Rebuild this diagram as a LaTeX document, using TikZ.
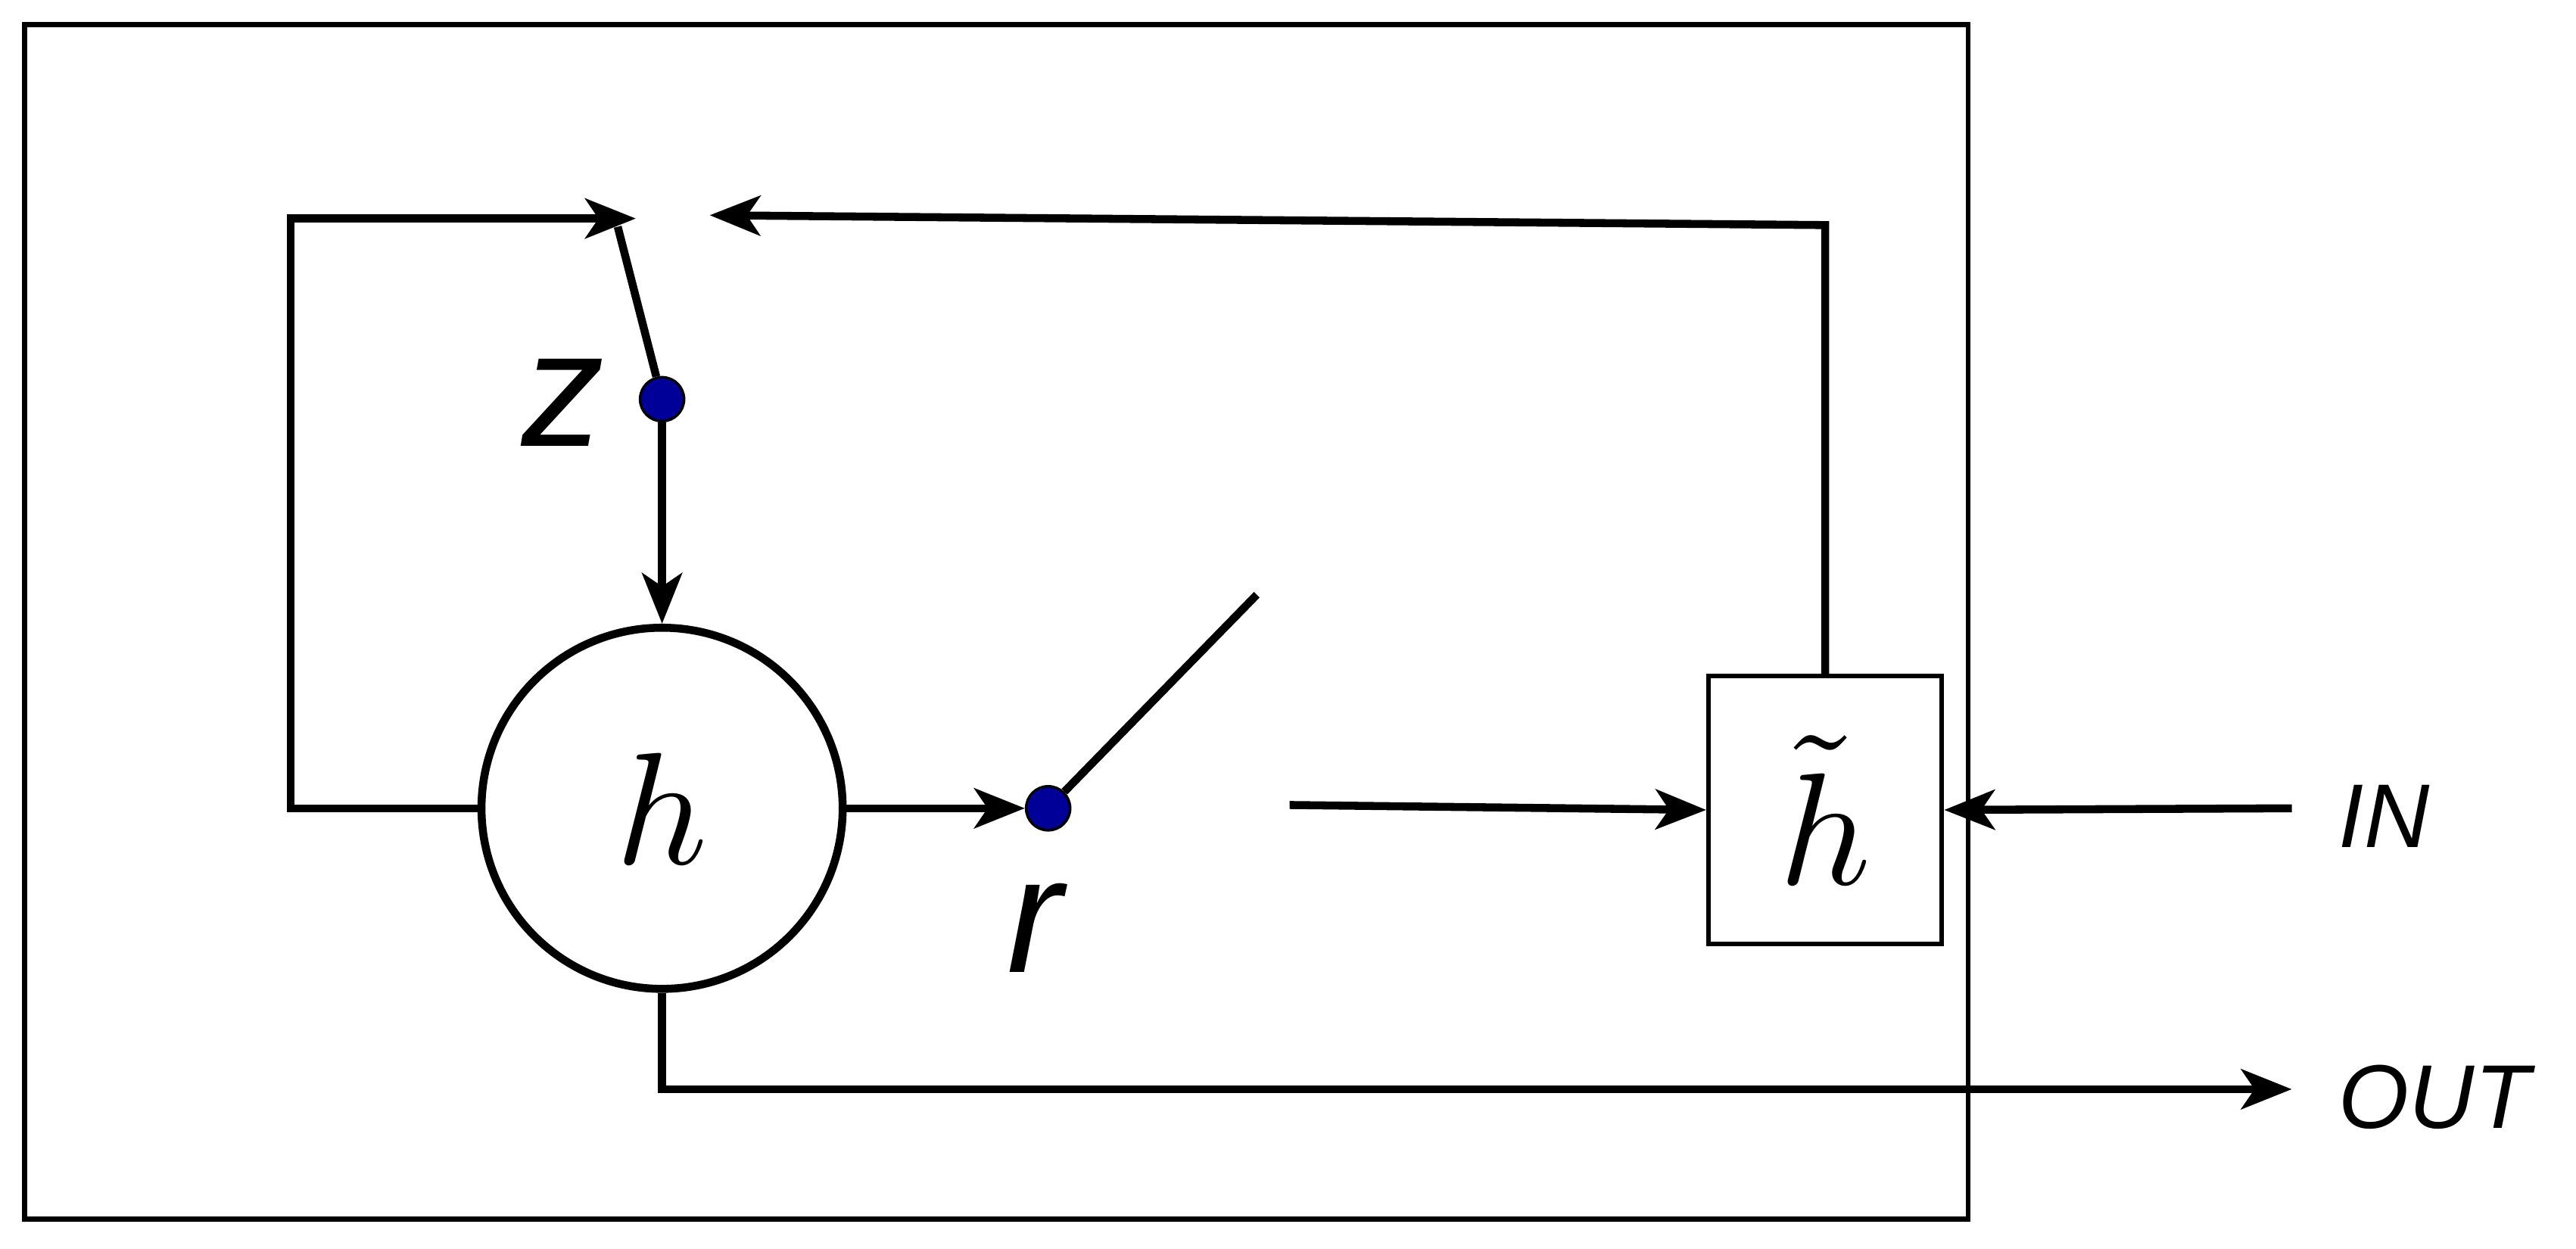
\documentclass[tikz,border=0pt]{standalone}
\usepackage{fontspec}
\setmainfont{Liberation Sans}
\usetikzlibrary{arrows.meta}
\begin{document}
\begin{tikzpicture}[x=0.0217cm,y=-0.0217cm,
  ln/.style={line width=3pt},
  arr/.style={ln,-{Stealth[length=19pt,width=15pt,inset=5pt]}},
  dot/.style={circle,fill=blue!60!black,draw=black,line width=1pt,inner sep=0pt,minimum size=0.58cm},
  lab/.style={font=\fontsize{34}{40}\selectfont\itshape}]
\useasboundingbox (0,0) rectangle (1568,760);
\draw[line width=1.8pt] (15,15) rectangle (1198,742);
\node[circle,draw,ln,minimum size=4.77cm,inner sep=0pt] (h) at (403,492) {\scalebox{6}{$h$}};
\node[draw,line width=1.8pt,minimum width=3.08cm,minimum height=3.54cm,inner sep=0pt] (ht) at (1111,493) {\scalebox{6}{$\tilde h$}};
\node[dot] (z) at (403,243) {};
\node[dot] (r) at (638,492) {};
\coordinate (zs) at (376,138);
\coordinate (zl) at (387,133);
\coordinate (zr) at (432,131);
\coordinate (rs) at (765,362);
\coordinate (rf) at (785,490);
\coordinate (in) at (1395,492);
\coordinate (out) at (1395,663);
\node[font=\fontsize{62}{70}\selectfont\itshape] (zlab) at (343,245) {z};
\node[font=\fontsize{62}{70}\selectfont\itshape] (rlab) at (630,565) {r};
\node[lab,anchor=west] (inl) at (1418,497) {IN};
\node[lab,anchor=west] (outl) at (1418,668) {OUT};
\draw[ln] (z) -- (zs);
\draw[ln] (r) -- (rs);
\draw[arr] (h.west) -- (177,492) -- (177,133) -- (zl);
\draw[arr] (ht.north) -- (1111,137) -- (zr);
\draw[arr] (z) -- (h.north);
\draw[arr] (h.east) -- (r.west);
\draw[arr] (rf) -- (ht.west);
\draw[arr] (in) -- (ht.east);
\draw[arr] (h.south) -- (403,663) -- (out);
\end{tikzpicture}
\end{document}
